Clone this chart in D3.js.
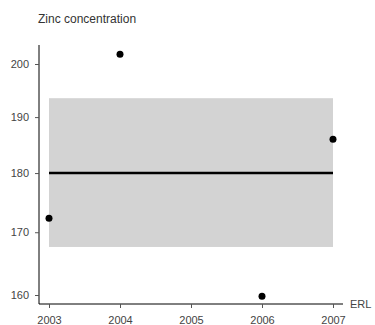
<!DOCTYPE html>
<html>
<head>
<meta charset="utf-8">
<script src="https://cdn.jsdelivr.net/npm/d3@7"></script>
<style>
  body { margin: 0; background: #fff; }
  text { font-family: "Liberation Sans", Arial, sans-serif; }
</style>
</head>
<body>
<svg id="chart" width="375" height="325"></svg>
<script>
const years = [2003, 2004, 2006, 2007];
const zinc_values = [172.3, 201.9, 159.8, 186];
const year_ticks = [2003, 2004, 2005, 2006, 2007];
const value_ticks = [160, 170, 180, 190, 200];
const band_range = [167.6, 193.5];
const erl_value = 180;

const svg = d3.select("#chart");

// log scale on y, the tick spacing shrinks going up
const x = d3.scaleLinear().domain([2003, 2007]).range([49, 333]);
const y = d3.scaleLog().domain([160, 200]).range([295, 64]);

const axis_left = 39;
const axis_bottom = 304;
const text_color = "#444";

svg.append("text")
  .attr("x", 38)
  .attr("y", 23)
  .attr("font-size", 12)
  .attr("fill", "#333")
  .text("Zinc concentration");

svg.append("rect")
  .attr("x", x(2003))
  .attr("y", y(band_range[1]))
  .attr("width", x(2007) - x(2003))
  .attr("height", y(band_range[0]) - y(band_range[1]))
  .attr("fill", "#d3d3d3");

svg.append("line")
  .attr("x1", x(2003))
  .attr("x2", x(2007))
  .attr("y1", y(erl_value))
  .attr("y2", y(erl_value))
  .attr("stroke", "#000")
  .attr("stroke-width", 2.5);

// axes
const y_axis = svg.append("g")
  .attr("transform", `translate(${axis_left},0)`)
  .call(d3.axisLeft(y).tickValues(value_ticks).tickFormat(d3.format("d")).tickSize(4).tickPadding(6));
y_axis.select(".domain").attr("d", `M0,45V${axis_bottom}`);

const x_axis = svg.append("g")
  .attr("transform", `translate(0,${axis_bottom})`)
  .call(d3.axisBottom(x).tickValues(year_ticks).tickFormat(d3.format("d")).tickSize(4).tickPadding(8));
x_axis.select(".domain").attr("d", `M${axis_left},0H343`);

[y_axis, x_axis].forEach((g) => {
  g.select(".domain").attr("stroke", "#000").attr("stroke-width", 1);
  g.selectAll(".tick line").attr("stroke", "#555");
  g.selectAll(".tick text")
    .attr("fill", text_color)
    .attr("font-size", 11)
    .attr("font-family", "Liberation Sans, Arial, sans-serif");
});

svg.append("text")
  .attr("x", 350)
  .attr("y", axis_bottom)
  .attr("dy", "0.35em")
  .attr("font-size", 11)
  .attr("fill", text_color)
  .text("ERL");

svg.append("g")
  .selectAll("circle")
  .data(years.map((d, i) => ({ year: d, value: zinc_values[i] })))
  .join("circle")
  .attr("cx", (d) => x(d.year))
  .attr("cy", (d) => y(d.value))
  .attr("r", 3.5)
  .attr("fill", "#000");
</script>
</body>
</html>
